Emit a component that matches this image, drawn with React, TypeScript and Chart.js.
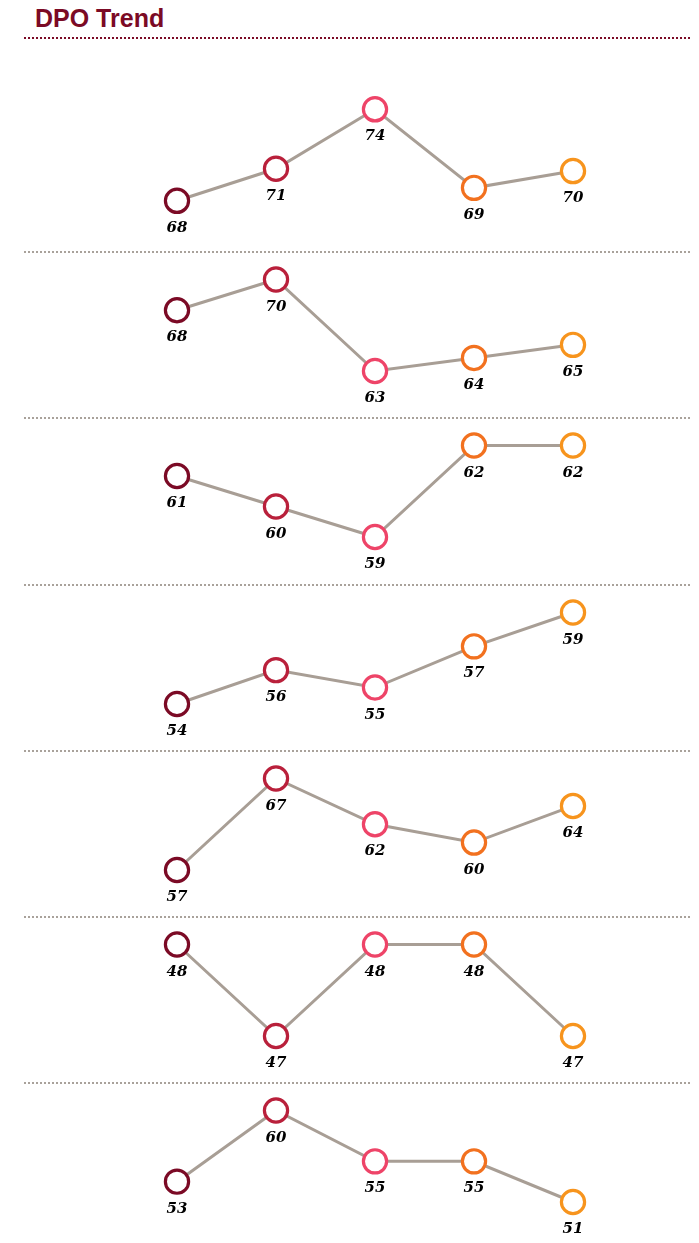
import React, { useEffect, useRef } from "react";
import { Chart, registerables } from "chart.js";

Chart.register(...registerables);

// ---- Data ----
const categories = ["P1", "P2", "P3", "P4", "P5"];
const panel1Values = [68.45, 70.55, 74.45, 69.3, 70.4];
const panel2Values = [67.65, 70, 63, 64, 65];
const panel3Values = [61, 60, 59, 62, 62];
const panel4Values = [54, 55.85, 54.9, 57.15, 59];
const panel5Values = [57, 67, 62, 60, 64];
const panel6Values = [48, 47, 48, 48, 47];
const panel7Values = [53, 60, 55, 55, 51];
const titleText = "DPO Trend";

const pointColors = ["#7b0a25", "#b9203b", "#ee4468", "#f2711f", "#f7941d"];
const lineColor = "#a89e95";
const maroon = "#7b0a25";
const sepColor = "#a9a29b";

const labelPlugin = {
  id: "dpoLabels",
  afterDatasetsDraw(chart: any) {
    const ctx = chart.ctx;
    const ds = chart.data.datasets[0];
    const meta = chart.getDatasetMeta(0);
    ctx.save();
    ctx.font = 'italic bold 15px "DejaVu Serif"';
    ctx.fillStyle = "#000000";
    ctx.textAlign = "center";
    ctx.textBaseline = "alphabetic";
    meta.data.forEach((pt: any, i: number) => {
      ctx.fillText(String(Math.round(ds.data[i])), pt.x, pt.y + 31);
    });
    ctx.restore();
  },
};

function dottedStyle(color: string) {
  return {
    height: 2,
    backgroundImage: `linear-gradient(to right, ${color} 0px, ${color} 2px, transparent 2px, transparent 4px)`,
    backgroundSize: "4px 2px",
    backgroundRepeat: "repeat-x",
  } as React.CSSProperties;
}

type PanelProps = {
  values: number[];
  top: number;
  height: number;
  padTop: number;
  border: boolean;
};

function DpoPanel({ values, top, height, padTop, border }: PanelProps) {
  const ref = useRef<HTMLCanvasElement | null>(null);
  useEffect(() => {
    if (!ref.current) return;
    const areaH = 91.5;
    const chart = new Chart(ref.current, {
      type: "line",
      data: {
        labels: categories,
        datasets: [
          {
            data: values,
            borderColor: lineColor,
            borderWidth: 3,
            pointRadius: 11.6,
            pointHoverRadius: 11.6,
            pointBorderWidth: 3.2,
            pointHoverBorderWidth: 3.2,
            pointBorderColor: pointColors,
            pointBackgroundColor: "#ffffff",
            tension: 0,
            fill: false,
            clip: false as any,
          },
        ],
      },
      options: {
        responsive: false,
        animation: false,
        events: [],
        layout: {
          padding: {
            left: 153,
            right: 119,
            top: padTop,
            bottom: height - padTop - areaH,
          },
        },
        scales: {
          x: { display: false, offset: false },
          y: {
            display: false,
            min: Math.min(...values),
            max: Math.max(...values),
          },
        },
        plugins: {
          legend: { display: false },
          tooltip: { enabled: false },
        },
      },
      plugins: [labelPlugin],
    });
    return () => chart.destroy();
  }, []);
  return (
    <div style={{ position: "absolute", left: 24, top, width: 668 }}>
      {border ? <div style={dottedStyle(sepColor)} /> : null}
      <canvas ref={ref} width={668} height={height} style={{ display: "block" }} />
    </div>
  );
}

export default function App() {
  const rest = [panel2Values, panel3Values, panel4Values, panel5Values, panel6Values, panel7Values];
  const tops = [251, 417, 584, 750, 916, 1082];
  return (
    <div style={{ position: "absolute", left: 0, top: 0, width: 699, height: 1243, background: "#ffffff" }}>
      <div
        style={{
          position: "absolute",
          left: 35,
          top: 5.5,
          font: 'bold 25px "Liberation Sans", Arial, sans-serif',
          lineHeight: "25px",
          color: maroon,
          whiteSpace: "nowrap",
        }}
      >
        {titleText}
      </div>
      <div style={{ position: "absolute", left: 24, top: 37, width: 668, ...dottedStyle(maroon) }} />
      <DpoPanel values={panel1Values} top={39} height={212} padTop={70.3} border={false} />
      {rest.map((v, i) => (
        <DpoPanel key={i} values={v} top={tops[i]} height={164} padTop={26.5} border={true} />
      ))}
    </div>
  );
}
